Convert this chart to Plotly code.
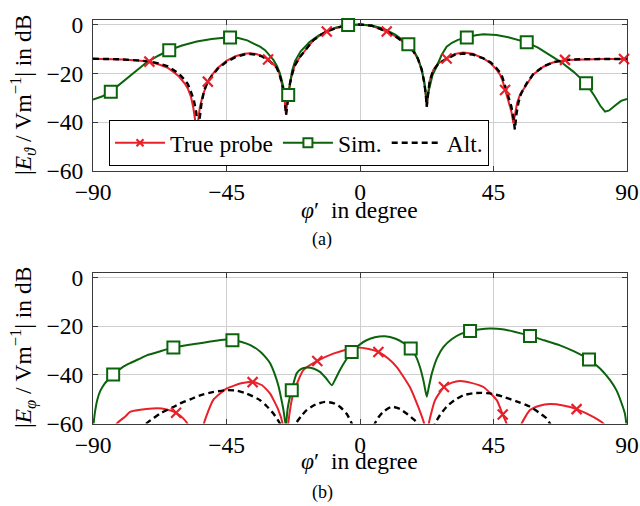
import plotly.graph_objects as go
from plotly.subplots import make_subplots

# ---------------- data: (a) E_theta ----------------
top_probe_x = [-90,-85,-80,-75,-71,-68,-65,-63,-61,-59,-58,-57,-56.2,-55.6,-55.1,-54.6,-54,-53,-52,-51.3,-50,-48,-45,-42,-39,-37,-35,-33,-31,-29.5,-28.1,-27.2,-26.4,-25.6,-25,-24.4,-23.6,-22.8,-22,-20.2,-18,-15.7,-13.5,-11.2,-8,-4.5,0,4,9,12,14,16.3,18,19.5,20.8,21.7,22.2,22.5,22.9,23.5,24.7,26.4,29.2,32,34.8,38,41.6,44,46.1,47.2,48,49,50,51,51.7,52.3,53,54,56.2,58.4,61.8,65,69.1,75,82,90]
top_probe_y = [-14.0,-14.1,-14.3,-14.7,-15.2,-16.3,-17.6,-19.3,-21.3,-24.3,-26.3,-29.5,-34,-39,-46,-40,-34,-29,-25.5,-23.4,-20.8,-17.8,-14.9,-13.0,-12.0,-11.8,-12.1,-12.9,-14.3,-15.8,-17.5,-20,-23.5,-28,-36.5,-31,-24,-20,-16.8,-13.2,-9.8,-6.4,-4.5,-2.9,-1.4,-0.3,0,-0.5,-2.9,-4.9,-6.6,-8.8,-11,-14,-18.5,-24,-29,-33.7,-29,-23,-18.6,-15.9,-13.9,-12.1,-11.5,-12,-13.9,-15.8,-18.6,-20.5,-22.8,-26.8,-30.5,-35.5,-40.5,-36,-32,-28.5,-24.3,-20.5,-17.3,-15.6,-14.5,-14.2,-14.1,-14.1]

top_sim_x = [-90,-87,-84,-80,-76,-72,-68,-64.3,-60,-55,-50,-45,-41,-38,-35.5,-33.7,-32,-30.5,-29.2,-28,-27,-26.4,-25.8,-25.2,-24.7,-24.2,-23.6,-22.9,-21.9,-20,-17,-14,-11,-8,-4,0,4,8,12,16.3,18,19.5,20.8,21.7,22.2,22.5,22.9,23.6,24.5,25.8,27.5,29.2,31,33,36,39,41.6,46,50,53,56.2,60,64,68,72,76.2,79,81,82.6,84,86,88,90]
top_sim_y = [-30.7,-29.5,-27.5,-23.5,-19.2,-15.6,-12.8,-10.5,-8.6,-7.0,-5.9,-5.3,-5.5,-6.5,-8.0,-9.1,-10.5,-12.8,-14.5,-17,-20,-22.7,-26,-30,-31.5,-28.9,-24,-19,-15,-11,-7.2,-4.5,-2.6,-1.2,-0.3,0,-0.4,-1.7,-4.2,-8.1,-10.5,-13.8,-18.5,-24,-29,-33,-28.5,-25,-20.5,-17.3,-12.5,-9.1,-7.5,-6.3,-5.3,-4.4,-4.0,-4.3,-5.2,-6.2,-7.3,-9.5,-12.5,-15.6,-19.4,-24.1,-29.2,-33.3,-35.7,-35.2,-33.2,-31.3,-30.5]

top_alt_x = [-90,-85,-80,-75,-71,-68,-65,-63,-61,-59,-58,-57,-56,-55.2,-54.5,-54,-53.4,-52.5,-51.5,-50,-48,-45,-42,-39,-37,-35,-33,-31,-29.5,-28.1,-27.2,-26.4,-25.6,-24.9,-24.3,-23.6,-22.8,-22,-20.2,-18,-15.7,-13.5,-11.2,-8,-4.5,0,4,9,12,14,16.3,18,19.5,20.8,21.7,22.2,22.5,22.9,23.5,24.7,26.4,29.2,32,34.8,38,41.6,44,46.1,47.2,48,49,50,51,51.7,52.2,52.7,53.4,54.3,56.2,58.4,61.8,65,69.1,75,82,90]
top_alt_y = [-14.0,-14.1,-14.3,-14.7,-15.1,-15.9,-17.0,-18.5,-20.2,-22.8,-24.5,-27.5,-31,-36,-45,-38,-32,-27,-23.8,-21.2,-18.2,-15.3,-13.4,-12.3,-12.1,-12.3,-13.1,-14.5,-16.0,-17.7,-20.2,-23.7,-28.5,-37,-31,-24,-20,-16.8,-13.2,-9.8,-6.4,-4.5,-2.9,-1.4,-0.3,0,-0.5,-2.9,-4.9,-6.6,-8.8,-11,-14,-18.5,-24,-29,-33.7,-29,-23,-18.8,-16.1,-14.1,-12.4,-11.9,-12.3,-13.9,-15.5,-18.0,-19.7,-21.6,-25.3,-29,-33.5,-38,-43,-37,-32,-28.3,-24,-20.3,-17.2,-15.5,-14.5,-14.2,-14.1,-14.1]

top_probe_mk_x = [-71,-51.3,-31,-11.2,9,29.2,48.9,69.1,89]
top_probe_mk_y = [-15.2,-23.4,-14.3,-2.9,-2.9,-13.9,-26.8,-14.5,-14.1]
top_sim_mk_x = [-84,-64.3,-43.8,-24.2,-4,16.3,36,56.2,76.2]
top_sim_mk_y = [-27.5,-10.5,-5.3,-28.9,-0.2,-8.1,-5.3,-7.3,-24.1]

# ---------------- data: (b) E_phi ----------------
bot_probe_x = [-90,-86,-83,-82,-79,-77.5,-72,-66.8,-64,-62,-59.6,-58.2,-56.5,-55,-54,-52.6,-49.5,-44.9,-40,-36,-33,-30.3,-27.5,-26.1,-25.2,-24.2,-22.5,-19.1,-14.4,-9,-4,-1.1,3,6.2,9.5,12.4,16.8,19.6,21.6,22.4,23.2,25.3,28.3,31,33.7,37.5,41.6,46.1,48.1,49.4,51,52.5,54.5,57.3,60.5,64,68.5,73,78.6,82,85,88,90]
bot_probe_y = [-80,-70,-63,-60,-57,-55.2,-54,-53.8,-54.6,-55.6,-57.9,-60,-66,-75,-70,-60,-50.4,-45.6,-43.5,-42.9,-44.3,-47.7,-54.5,-60,-75,-60,-47.7,-38.1,-34.3,-31.3,-29.5,-28.8,-29.4,-30.6,-33.3,-36.8,-45,-53.1,-60,-75,-60,-50.4,-45,-43.2,-42.5,-43.3,-45,-50.4,-56.3,-60,-70,-70,-60,-54.5,-52.7,-52,-52.6,-54.1,-57.3,-60,-66,-75,-85]

bot_sim_x = [-90,-89.3,-88.5,-87.5,-86,-84.5,-83.2,-80,-77.5,-74,-71.9,-67,-62.9,-58,-52.8,-48,-45,-41.5,-38.2,-35.8,-33.7,-32,-30.3,-28.8,-27.5,-26.6,-25.8,-25.0,-24.4,-23.8,-23,-22.2,-21.4,-19.8,-18,-15.5,-13.5,-11.5,-9.5,-8.2,-6.8,-4.8,-2.8,0,2.2,5,8.4,12,14.5,17.1,18.8,20.2,21.5,22.5,23.2,24.2,26,28.1,31,34,37.1,40,43.8,48,52,57.3,62,67.4,72,77.2,81,84.3,86.5,88.2,89.3,90]
bot_sim_y = [-62,-55,-50,-46.5,-43.5,-41.5,-39.9,-36.8,-35.2,-33.2,-32,-30.2,-28.8,-27.7,-26.8,-25.9,-25.5,-26,-27.2,-28.6,-30.4,-32.5,-35.2,-39.5,-44.5,-49.5,-54.5,-61,-54,-50,-46.3,-42.5,-39.5,-37.6,-37,-37.5,-38.8,-41.3,-44.3,-41.5,-38.1,-34,-30.6,-27.5,-25.8,-24.6,-24.2,-25.2,-26.8,-29.2,-32.3,-36.8,-43,-49,-45,-39.5,-33,-28.6,-25.3,-23.2,-22,-21.4,-21,-21.3,-22.3,-24,-25.8,-27.9,-30.3,-33.7,-37.5,-42.2,-46.5,-51.8,-56,-62]

bot_alt_x = [-90,-80,-74,-72,-69.5,-67.4,-63,-60.7,-57,-53.9,-50,-45,-41.5,-38.2,-33.7,-31.5,-29.2,-27,-25,-23,-21.6,-19.8,-18,-15,-11.8,-9,-6.8,-4.5,-2.8,-1,2,5,6.5,7.8,10.7,13.5,15.7,17.8,19.5,21.5,23.5,25.3,27,29.2,31.8,34.8,38,41,44.5,48.3,52.5,57.3,60.2,62.9,64,66,70,80,90]
bot_alt_y = [-90,-75,-64,-60,-57.7,-55.9,-53.3,-51.8,-50.0,-48.4,-47.2,-46.3,-46.5,-47.7,-50.4,-52.8,-55.9,-60,-68,-66,-60,-57,-54.5,-52.2,-51.1,-51.6,-53.1,-56,-60,-68,-68,-60,-57,-55.2,-53.1,-54,-55.9,-58,-60,-68,-68,-60,-56.5,-53.1,-50.5,-48.4,-47.6,-47.4,-47.8,-49,-50.8,-53.1,-55.4,-57.9,-60,-64,-70,-80,-90]

bot_probe_mk_x = [-62,-36.2,-14.4,6.2,28.3,48.1,73]
bot_probe_mk_y = [-55.6,-43,-34.3,-30.6,-45,-56.3,-54.1]
bot_sim_mk_x = [-83.2,-62.9,-43,-23,-2.8,17.1,37.1,57.3,77.2]
bot_sim_mk_y = [-39.9,-28.8,-25.8,-46.3,-30.6,-29.2,-22.0,-24.0,-33.7]

x_ticks = [-90, -45, 0, 45, 90]
y_ticks = [0, -20, -40, -60]
legend_names = ["True probe", "Sim.", "Alt."]

# ---------------- styles ----------------
RED = "#e8202a"
GREEN = "#0b640b"
BLACK = "#000000"
FONT = "Liberation Serif"
FS = 23.5

red_marker = dict(symbol="x-thin", size=10, line=dict(color=RED, width=2.2), color=RED)
green_marker = dict(symbol="square", size=12, color="white", line=dict(color=GREEN, width=2))
red_marker_lg = dict(symbol="x-thin", size=7, line=dict(color=RED, width=2.2), color=RED)
green_marker_lg = dict(symbol="square", size=9, color="white", line=dict(color=GREEN, width=2))

fig = make_subplots(rows=2, cols=1)

def add_panel(row, px, py, sx, sy, ax, ay, pmx, pmy, smx, smy, shape):
    fig.add_trace(go.Scatter(x=px, y=py, mode="lines",
                             line=dict(color=RED, width=2, shape=shape, smoothing=0.5),
                             showlegend=False, hoverinfo="skip"), row=row, col=1)
    fig.add_trace(go.Scatter(x=sx, y=sy, mode="lines",
                             line=dict(color=GREEN, width=2, shape=shape, smoothing=0.5),
                             showlegend=False, hoverinfo="skip"), row=row, col=1)
    fig.add_trace(go.Scatter(x=ax, y=ay, mode="lines",
                             line=dict(color=BLACK, width=2.4, dash="6px,4px", shape=shape, smoothing=0.5),
                             showlegend=False, hoverinfo="skip"), row=row, col=1)
    fig.add_trace(go.Scatter(x=pmx, y=pmy, mode="markers", marker=red_marker,
                             showlegend=False, cliponaxis=False), row=row, col=1)
    fig.add_trace(go.Scatter(x=smx, y=smy, mode="markers", marker=green_marker,
                             showlegend=False, cliponaxis=False), row=row, col=1)

add_panel(1, top_probe_x, top_probe_y, top_sim_x, top_sim_y, top_alt_x, top_alt_y,
          top_probe_mk_x, top_probe_mk_y, top_sim_mk_x, top_sim_mk_y, "linear")
add_panel(2, bot_probe_x, bot_probe_y, bot_sim_x, bot_sim_y, bot_alt_x, bot_alt_y,
          bot_probe_mk_x, bot_probe_mk_y, bot_sim_mk_x, bot_sim_mk_y, "spline")

# legend entries (legend-only traces)
fig.add_trace(go.Scatter(x=[None], y=[None], mode="lines+markers", name=legend_names[0],
                         line=dict(color=RED, width=2), marker=red_marker_lg), row=1, col=1)
fig.add_trace(go.Scatter(x=[None], y=[None], mode="lines+markers", name=legend_names[1],
                         line=dict(color=GREEN, width=2), marker=green_marker_lg), row=1, col=1)
fig.add_trace(go.Scatter(x=[None], y=[None], mode="lines", name=legend_names[2],
                         line=dict(color=BLACK, width=2.4, dash="6px,4px")), row=1, col=1)

W, H = 640, 506
def fx(p): return p / W
def fy(p): return 1 - p / H

axis_common = dict(showline=True, linecolor="#3a3a3a", linewidth=1, mirror="allticks",
                   ticks="inside", ticklen=5, tickcolor="#3a3a3a", showgrid=True,
                   gridcolor="#cfcfcf", gridwidth=1, zeroline=False, automargin=False,
                   tickfont=dict(family=FONT, size=FS, color="black"))

fig.update_xaxes(**axis_common, range=[-90, 90], tickvals=x_ticks,
                 domain=[fx(93), fx(627)])
fig.update_yaxes(**axis_common, range=[-60, 1.84], tickvals=y_ticks, ticklabelstandoff=4)
fig.update_yaxes(domain=[fy(171), fy(20)], row=1, col=1)
fig.update_yaxes(domain=[fy(423.5), fy(273)], row=2, col=1)

ann = []
for yc in (210, 461):
    ann.append(dict(text="<i>φ</i>′  in degree", x=fx(359), y=fy(yc), xref="paper", yref="paper",
                    showarrow=False, xanchor="center", yanchor="middle",
                    font=dict(family=FONT, size=FS, color="black")))
ann.append(dict(text="(a)", x=fx(322), y=fy(240), xref="paper", yref="paper",
                showarrow=False, xanchor="center", yanchor="middle",
                font=dict(family=FONT, size=18, color="black")))
ann.append(dict(text="(b)", x=fx(322), y=fy(492), xref="paper", yref="paper",
                showarrow=False, xanchor="center", yanchor="middle",
                font=dict(family=FONT, size=18, color="black")))
ann.append(dict(text="|<i>E</i><sub><i>ϑ</i></sub> / Vm<sup>−1</sup>| in dB",
                x=fx(23), y=fy(95), xref="paper", yref="paper", textangle=-90,
                showarrow=False, xanchor="center", yanchor="middle",
                font=dict(family=FONT, size=FS, color="black")))
ann.append(dict(text="|<i>E</i><sub><i>φ</i></sub> / Vm<sup>−1</sup>| in dB",
                x=fx(23), y=fy(348), xref="paper", yref="paper", textangle=-90,
                showarrow=False, xanchor="center", yanchor="middle",
                font=dict(family=FONT, size=FS, color="black")))

fig.update_layout(
    width=W, height=H, autosize=False,
    margin=dict(l=0, r=0, t=0, b=0, autoexpand=False),
    paper_bgcolor="white", plot_bgcolor="white",
    font=dict(family=FONT, size=FS, color="black"),
    annotations=ann,
    showlegend=True,
    legend=dict(orientation="h", x=fx(109), y=fy(120), xanchor="left", yanchor="top",
                bgcolor="white", bordercolor="black", borderwidth=1,
                font=dict(family=FONT, size=FS, color="black"),
                itemwidth=50, tracegroupgap=0),
)

fig.write_html("out.html")
